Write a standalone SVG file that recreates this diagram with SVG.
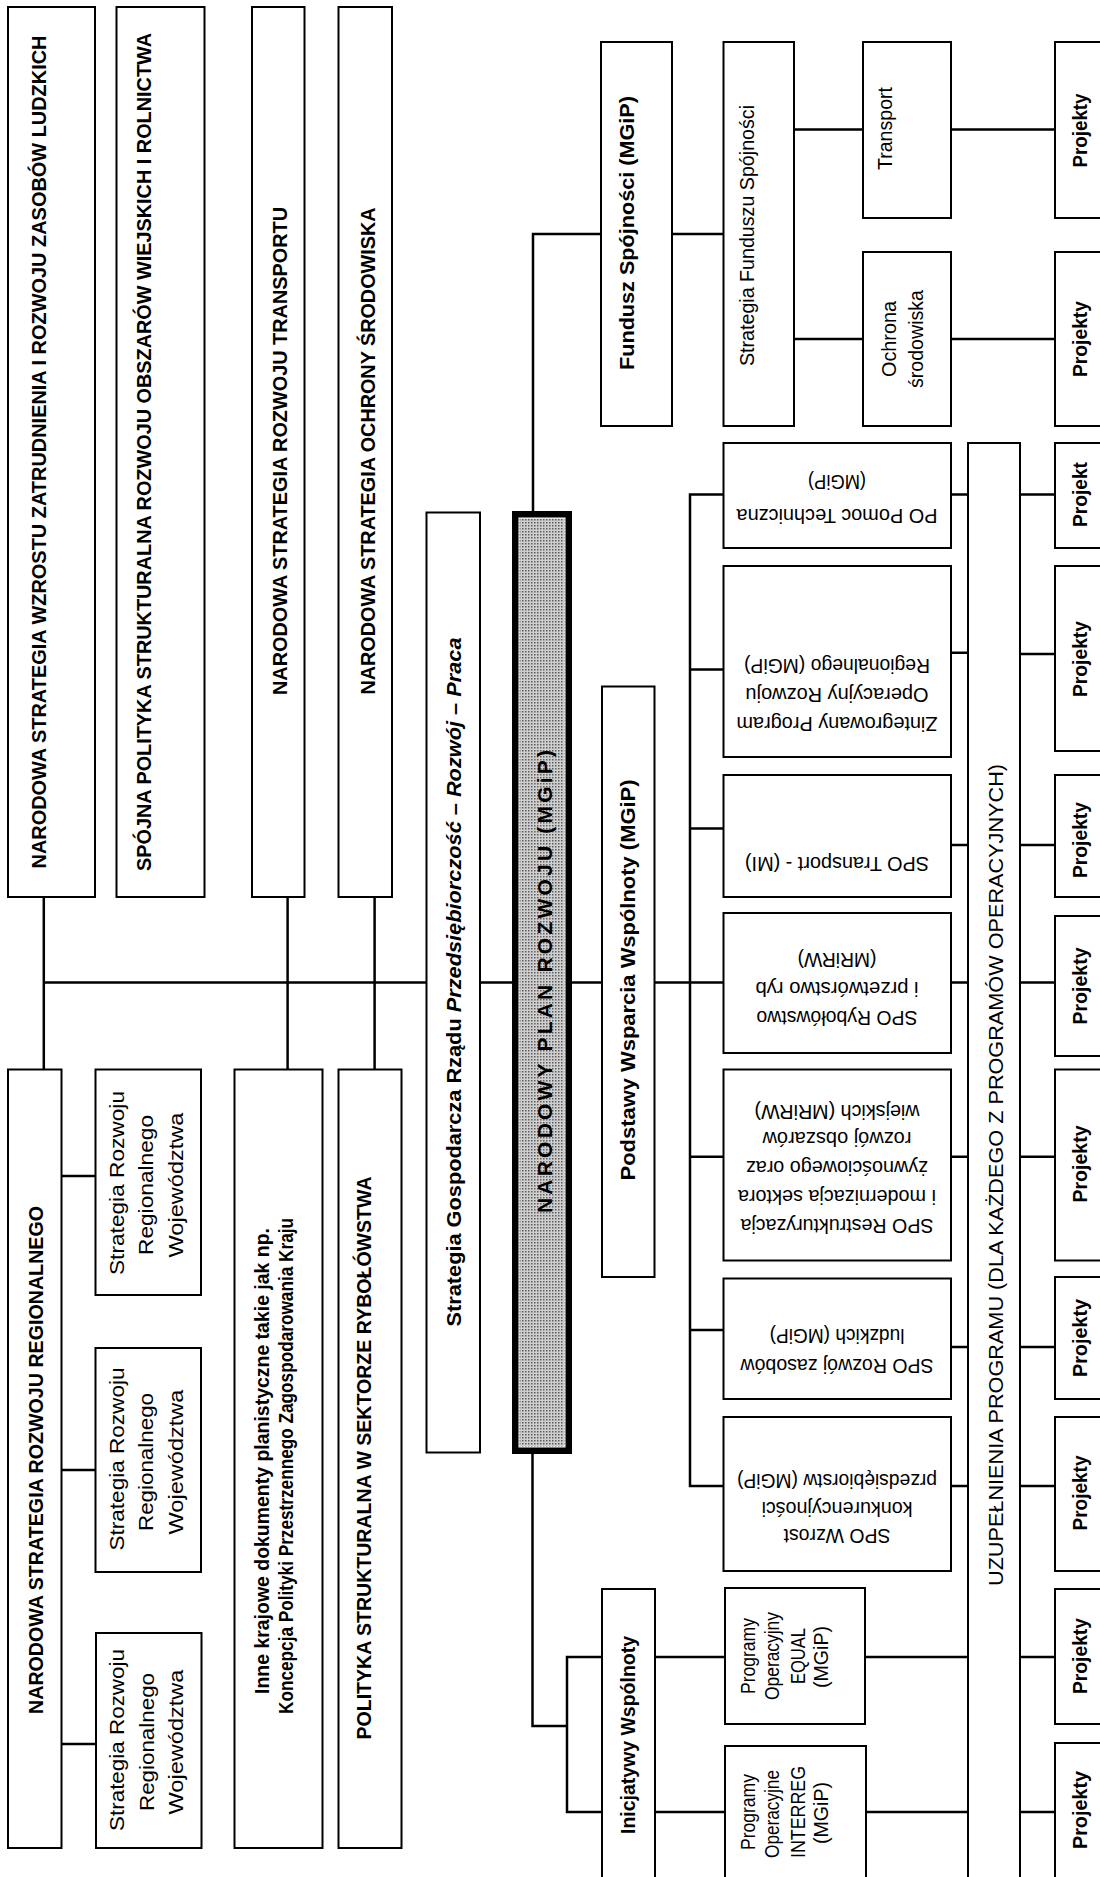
<svg xmlns="http://www.w3.org/2000/svg" width="1100" height="1877" viewBox="0 0 1100 1877">
<style>
.bx{fill:#fff;stroke:#000;stroke-width:2}
.cn{fill:none;stroke:#000;stroke-width:2.5}
text{fill:#000;text-anchor:middle;dominant-baseline:central}
.tb{font-family:'Liberation Sans Narrow','Liberation Sans',Arial,sans-serif;font-weight:bold;font-size:21px}
.tn{font-family:'Liberation Sans Narrow','Liberation Sans',Arial,sans-serif;font-size:20px}
.tr{font-family:'Liberation Sans',Arial,sans-serif;font-size:20px}
.pj{font-family:'Liberation Sans Narrow','Liberation Sans',Arial,sans-serif;font-weight:bold;font-size:20px}
</style>
<defs>
<pattern id="st" width="3" height="3" patternUnits="userSpaceOnUse"><rect width="3" height="3" fill="#cfcfcf"/><rect width="1.5" height="1.5" fill="#5e5e5e"/></pattern>
</defs>
<rect width="1100" height="1877" fill="#fff"/>

<g id="connectors">
<path class="cn" d="M43.8 897V1069.6M43.8 982.6H426.5M480 982.6H512"/>
<path class="cn" d="M287.6 897V1069.6"/>
<path class="cn" d="M374.6 897V1069.6" stroke-width="3.5"/>
<path class="cn" d="M61.5 1176H95.5M61.5 1470H95.5M61.5 1744H96"/>
<path class="cn" d="M533 511V234H601M672 234H723.5"/>
<path class="cn" d="M794 129.5H863M794 339H863M951 129.5H1055M951 339H1055"/>
<path class="cn" d="M572 982.6H602M654.5 982.6H690"/>
<path class="cn" d="M723.5 494.6H690V1486H723.5M690 669.6H723.5M690 828.6H723.5M690 982.6H723.5M690 1156.7H723.5M690 1330H723.5"/>
<path class="cn" d="M951 494.6H968M951 652.7H968M951 845H968M951 982.6H968M951 1156.7H968M951 1347H968M951 1486H968"/>
<path class="cn" d="M1020 494.6H1055M1020 654H1055M1020 845H1055M1020 982.6H1055M1020 1156.7H1055M1020 1347H1055M1020 1486H1055M1020 1657H1055M1020 1812H1055"/>
<path class="cn" d="M532.5 1454V1726H567M602 1657H567V1812H602"/>
<path class="cn" d="M655 1657H725M655 1812H725M865 1657H968M866 1812H968"/>
</g>

<g id="n-zatrudnienie">
<rect class="bx" x="8" y="7" width="87" height="890"/>
<text class="tb" font-size="20" transform="translate(38.6,452) rotate(-90)" textLength="833" lengthAdjust="spacingAndGlyphs">NARODOWA STRATEGIA WZROSTU ZATRUDNIENIA I ROZWOJU ZASOBÓW LUDZKICH</text>
</g>
<g id="n-spojna">
<rect class="bx" x="116.5" y="7" width="88" height="890"/>
<text class="tb" font-size="20" transform="translate(143,452) rotate(-90)" textLength="838" lengthAdjust="spacingAndGlyphs">SPÓJNA POLITYKA STRUKTURALNA ROZWOJU OBSZARÓW WIEJSKICH I ROLNICTWA</text>
</g>
<g id="n-transport">
<rect class="bx" x="252" y="7" width="52.5" height="890"/>
<text class="tb" transform="translate(279,451) rotate(-90)" textLength="488" lengthAdjust="spacingAndGlyphs">NARODOWA STRATEGIA ROZWOJU TRANSPORTU</text>
</g>
<g id="n-srodowisko">
<rect class="bx" x="338.5" y="7" width="53.5" height="890"/>
<text class="tb" transform="translate(367,451) rotate(-90)" textLength="487" lengthAdjust="spacingAndGlyphs">NARODOWA STRATEGIA OCHRONY ŚRODOWISKA</text>
</g>
<g id="n-strategia-gosp">
<rect class="bx" x="426.5" y="512.5" width="53.5" height="940"/>
<text class="tb" transform="translate(453,982) rotate(-90)" textLength="689" lengthAdjust="spacingAndGlyphs">Strategia Gospodarcza Rządu <tspan font-style="italic">Przedsiębiorczość</tspan> – <tspan font-style="italic">Rozwój</tspan> – <tspan font-style="italic">Praca</tspan></text>
</g>
<g id="n-npr">
<rect x="512" y="511" width="60" height="943" fill="#000"/>
<rect x="519" y="518" width="46" height="929" fill="url(#st)" stroke="#fff" stroke-width="1"/>
<text class="tb" font-size="19" transform="translate(544.5,981.5) rotate(-90)" textLength="463" lengthAdjust="spacing">NARODOWY PLAN ROZWOJU (MGiP)</text>
</g>
<g id="n-fundusz">
<rect class="bx" x="601" y="42" width="71" height="384"/>
<text class="tb" transform="translate(626,233) rotate(-90)" textLength="274" lengthAdjust="spacingAndGlyphs">Fundusz Spójności (MGiP)</text>
</g>
<g id="n-strategia-fs">
<rect class="bx" x="723.5" y="42" width="70.5" height="384"/>
<text class="tn" font-size="21" transform="translate(747,235.5) rotate(-90)" textLength="261" lengthAdjust="spacingAndGlyphs">Strategia Funduszu Spójności</text>
</g>
<g id="n-fs-transport">
<rect class="bx" x="863" y="42" width="88" height="176"/>
<text class="tn" transform="translate(885,128.5) rotate(-90)" textLength="83" lengthAdjust="spacingAndGlyphs">Transport</text>
</g>
<g id="n-fs-ochrona">
<rect class="bx" x="863" y="252" width="88" height="174"/>
<text class="tn" transform="translate(889,339) rotate(-90)" textLength="76" lengthAdjust="spacingAndGlyphs">Ochrona</text>
<text class="tn" transform="translate(916,339) rotate(-90)" textLength="98" lengthAdjust="spacingAndGlyphs">środowiska</text>
</g>

<g id="n-pww">
<rect class="bx" x="602" y="686.5" width="52.5" height="590.5"/>
<text class="tb" transform="translate(627,980) rotate(-90)" textLength="401" lengthAdjust="spacingAndGlyphs">Podstawy Wsparcia Wspólnoty (MGiP)</text>
</g>
<g id="n-iw">
<rect class="bx" x="602" y="1589" width="53" height="300"/>
<text class="tb" transform="translate(627,1735) rotate(-90)" textLength="198" lengthAdjust="spacingAndGlyphs">Inicjatywy Wspólnoty</text>
</g>

<g id="n-po-pomoc">
<rect class="bx" x="723.5" y="443" width="227.5" height="105"/>
<text class="tr" transform="translate(837,515.6) rotate(180)" textLength="201" lengthAdjust="spacingAndGlyphs">PO Pomoc Techniczna</text>
<text class="tr" transform="translate(837,482) rotate(180)" textLength="58" lengthAdjust="spacingAndGlyphs">(MGiP)</text>
</g>
<g id="n-zporr">
<rect class="bx" x="723.5" y="566" width="227.5" height="191"/>
<text class="tr" transform="translate(837,723.7) rotate(180)" textLength="201" lengthAdjust="spacingAndGlyphs">Zintegrowany Program</text>
<text class="tr" transform="translate(837,694.6) rotate(180)" textLength="183" lengthAdjust="spacingAndGlyphs">Operacyjny Rozwoju</text>
<text class="tr" transform="translate(837,666) rotate(180)" textLength="186" lengthAdjust="spacingAndGlyphs">Regionalnego (MGiP)</text>
</g>
<g id="n-spo-transport">
<rect class="bx" x="723.5" y="775" width="227.5" height="122"/>
<text class="tr" transform="translate(837,864) rotate(180)" textLength="184" lengthAdjust="spacingAndGlyphs">SPO Transport - (MI)</text>
</g>
<g id="n-spo-ryb">
<rect class="bx" x="723.5" y="913" width="227.5" height="140"/>
<text class="tr" transform="translate(837,1018) rotate(180)" textLength="161" lengthAdjust="spacingAndGlyphs">SPO Rybołówstwo</text>
<text class="tr" transform="translate(837,989) rotate(180)" textLength="163" lengthAdjust="spacingAndGlyphs">i przetwórstwo ryb</text>
<text class="tr" transform="translate(837,960) rotate(180)" textLength="79" lengthAdjust="spacingAndGlyphs">(MRiRW)</text>
</g>
<g id="n-spo-restr">
<rect class="bx" x="723.5" y="1069.5" width="227.5" height="191"/>
<text class="tr" transform="translate(837,1226) rotate(180)" textLength="193" lengthAdjust="spacingAndGlyphs">SPO Restrukturyzacja</text>
<text class="tr" transform="translate(837,1197) rotate(180)" textLength="198" lengthAdjust="spacingAndGlyphs">i modernizacja sektora</text>
<text class="tr" transform="translate(837,1168) rotate(180)" textLength="182" lengthAdjust="spacingAndGlyphs">żywnościowego oraz</text>
<text class="tr" transform="translate(837,1139) rotate(180)" textLength="149" lengthAdjust="spacingAndGlyphs">rozwój obszarów</text>
<text class="tr" transform="translate(837,1112) rotate(180)" textLength="165" lengthAdjust="spacingAndGlyphs">wiejskich (MRiRW)</text>
</g>
<g id="n-spo-rzl">
<rect class="bx" x="723.5" y="1278.5" width="227.5" height="120.5"/>
<text class="tr" transform="translate(837,1366) rotate(180)" textLength="193" lengthAdjust="spacingAndGlyphs">SPO Rozwój zasobów</text>
<text class="tr" transform="translate(837,1336) rotate(180)" textLength="135" lengthAdjust="spacingAndGlyphs">ludzkich (MGiP)</text>
</g>
<g id="n-spo-wzrost">
<rect class="bx" x="723.5" y="1417" width="227.5" height="154"/>
<text class="tr" transform="translate(837,1536) rotate(180)" textLength="107" lengthAdjust="spacingAndGlyphs">SPO Wzrost</text>
<text class="tr" transform="translate(837,1509) rotate(180)" textLength="151" lengthAdjust="spacingAndGlyphs">konkurencyjności</text>
<text class="tr" transform="translate(837,1481) rotate(180)" textLength="200" lengthAdjust="spacingAndGlyphs">przedsiębiorstw (MGiP)</text>
</g>

<g id="n-equal">
<rect class="bx" x="725" y="1588" width="140" height="136"/>
<text class="tn" font-size="17" transform="translate(748,1656) rotate(-90)" textLength="76" lengthAdjust="spacingAndGlyphs">Programy</text>
<text class="tn" font-size="17" transform="translate(772,1656) rotate(-90)" textLength="88" lengthAdjust="spacingAndGlyphs">Operacyjny</text>
<text class="tn" font-size="17" transform="translate(798,1656) rotate(-90)" textLength="56" lengthAdjust="spacingAndGlyphs">EQUAL</text>
<text class="tn" font-size="17" transform="translate(821,1657) rotate(-90)" textLength="62" lengthAdjust="spacingAndGlyphs">(MGiP)</text>
</g>
<g id="n-interreg">
<rect class="bx" x="725" y="1746" width="141" height="150"/>
<text class="tn" font-size="17" transform="translate(748,1812) rotate(-90)" textLength="76" lengthAdjust="spacingAndGlyphs">Programy</text>
<text class="tn" font-size="17" transform="translate(772,1814) rotate(-90)" textLength="88" lengthAdjust="spacingAndGlyphs">Operacyjne</text>
<text class="tn" font-size="17" transform="translate(798,1812) rotate(-90)" textLength="92" lengthAdjust="spacingAndGlyphs">INTERREG</text>
<text class="tn" font-size="17" transform="translate(821,1813) rotate(-90)" textLength="62" lengthAdjust="spacingAndGlyphs">(MGiP)</text>
</g>

<g id="n-uzupelnienia">
<rect class="bx" x="968" y="443" width="52" height="1450"/>
<text class="tr" transform="translate(996,1175) rotate(-90)" textLength="822" lengthAdjust="spacingAndGlyphs">UZUPEŁNIENIA PROGRAMU (DLA KAŻDEGO Z PROGRAMÓW OPERACYJNYCH)</text>
</g>

<g id="n-projekty-1"><rect class="bx" x="1055" y="42" width="60" height="176"/><text class="pj" transform="translate(1080,130.5) rotate(-90)" textLength="74" lengthAdjust="spacingAndGlyphs">Projekty</text></g>
<g id="n-projekty-2"><rect class="bx" x="1055" y="252" width="60" height="174"/><text class="pj" transform="translate(1080,339) rotate(-90)" textLength="76" lengthAdjust="spacingAndGlyphs">Projekty</text></g>
<g id="n-projekt-3"><rect class="bx" x="1055" y="443" width="60" height="105"/><text class="pj" transform="translate(1080,494.5) rotate(-90)" textLength="65" lengthAdjust="spacingAndGlyphs">Projekt</text></g>
<g id="n-projekty-4"><rect class="bx" x="1055" y="566" width="60" height="185"/><text class="pj" transform="translate(1080,659) rotate(-90)" textLength="76" lengthAdjust="spacingAndGlyphs">Projekty</text></g>
<g id="n-projekty-5"><rect class="bx" x="1055" y="775" width="60" height="122"/><text class="pj" transform="translate(1080,840) rotate(-90)" textLength="76" lengthAdjust="spacingAndGlyphs">Projekty</text></g>
<g id="n-projekty-6"><rect class="bx" x="1055" y="916" width="60" height="140"/><text class="pj" transform="translate(1080,986) rotate(-90)" textLength="77" lengthAdjust="spacingAndGlyphs">Projekty</text></g>
<g id="n-projekty-7"><rect class="bx" x="1055" y="1069.5" width="60" height="191"/><text class="pj" transform="translate(1080,1164) rotate(-90)" textLength="77" lengthAdjust="spacingAndGlyphs">Projekty</text></g>
<g id="n-projekty-8"><rect class="bx" x="1055" y="1277" width="60" height="122"/><text class="pj" transform="translate(1080,1338) rotate(-90)" textLength="78" lengthAdjust="spacingAndGlyphs">Projekty</text></g>
<g id="n-projekty-9"><rect class="bx" x="1055" y="1417" width="60" height="154"/><text class="pj" transform="translate(1080,1493) rotate(-90)" textLength="75" lengthAdjust="spacingAndGlyphs">Projekty</text></g>
<g id="n-projekty-10"><rect class="bx" x="1055" y="1589" width="60" height="135"/><text class="pj" transform="translate(1080,1656) rotate(-90)" textLength="76" lengthAdjust="spacingAndGlyphs">Projekty</text></g>
<g id="n-projekty-11"><rect class="bx" x="1055" y="1743" width="60" height="150"/><text class="pj" transform="translate(1080,1810) rotate(-90)" textLength="78" lengthAdjust="spacingAndGlyphs">Projekty</text></g>

<g id="n-nsrr">
<rect class="bx" x="8" y="1069.5" width="53.5" height="778.5"/>
<text class="tb" transform="translate(35,1460) rotate(-90)" textLength="508" lengthAdjust="spacingAndGlyphs">NARODOWA STRATEGIA ROZWOJU REGIONALNEGO</text>
</g>
<g id="n-srrw-1">
<rect class="bx" x="95.5" y="1069.5" width="105.5" height="225.5"/>
<text class="tr" font-size="19" transform="translate(116.5,1183) rotate(-90)" textLength="184" lengthAdjust="spacingAndGlyphs">Strategia  Rozwoju</text>
<text class="tr" font-size="19" transform="translate(146,1185) rotate(-90)" textLength="140" lengthAdjust="spacingAndGlyphs">Regionalnego</text>
<text class="tr" font-size="19" transform="translate(175.5,1185) rotate(-90)" textLength="145" lengthAdjust="spacingAndGlyphs">Województwa</text>
</g>
<g id="n-srrw-2">
<rect class="bx" x="95.5" y="1348" width="105.5" height="224"/>
<text class="tr" font-size="19" transform="translate(116.5,1459) rotate(-90)" textLength="183" lengthAdjust="spacingAndGlyphs">Strategia  Rozwoju</text>
<text class="tr" font-size="19" transform="translate(146,1462) rotate(-90)" textLength="138" lengthAdjust="spacingAndGlyphs">Regionalnego</text>
<text class="tr" font-size="19" transform="translate(175.5,1462) rotate(-90)" textLength="145" lengthAdjust="spacingAndGlyphs">Województwa</text>
</g>
<g id="n-srrw-3">
<rect class="bx" x="96" y="1633" width="105.5" height="215"/>
<text class="tr" font-size="19" transform="translate(117,1740) rotate(-90)" textLength="182" lengthAdjust="spacingAndGlyphs">Strategia  Rozwoju</text>
<text class="tr" font-size="19" transform="translate(146.5,1742) rotate(-90)" textLength="138" lengthAdjust="spacingAndGlyphs">Regionalnego</text>
<text class="tr" font-size="19" transform="translate(176,1742) rotate(-90)" textLength="145" lengthAdjust="spacingAndGlyphs">Województwa</text>
</g>
<g id="n-inne">
<rect class="bx" x="234.5" y="1069.5" width="88" height="778.5"/>
<text class="tb" font-size="19" transform="translate(261,1461) rotate(-90)" textLength="466" lengthAdjust="spacingAndGlyphs">Inne krajowe dokumenty planistyczne takie jak np.</text>
<text class="tb" font-size="18" transform="translate(285.5,1466) rotate(-90)" textLength="496" lengthAdjust="spacingAndGlyphs">Koncepcja Polityki Przestrzennego Zagospodarowania Kraju</text>
</g>
<g id="n-rybolowstwo">
<rect class="bx" x="338.5" y="1069.5" width="63" height="778.5"/>
<text class="tb" transform="translate(363,1458) rotate(-90)" textLength="563" lengthAdjust="spacingAndGlyphs">POLITYKA STRUKTURALNA W SEKTORZE RYBOŁÓWSTWA</text>
</g>
</svg>
